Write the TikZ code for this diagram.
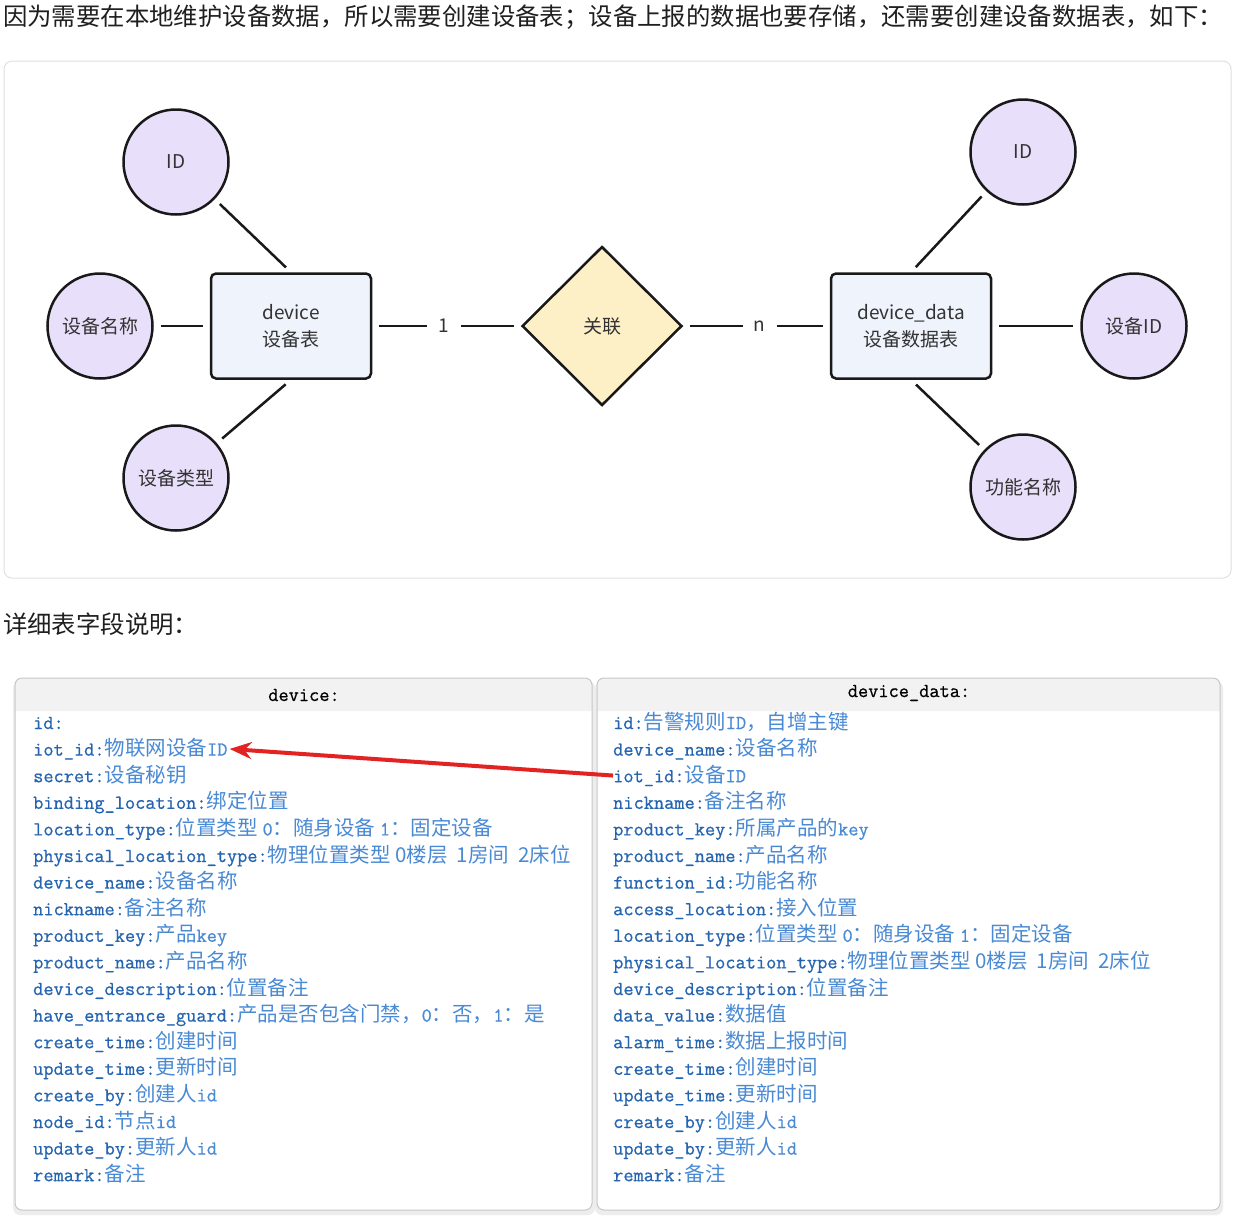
\documentclass[tikz,border=0pt]{standalone}
\usepackage{fontspec}
\newfontfamily\cjk{Noto Sans CJK SC}
\newfontfamily\fmono{Latin Modern Mono}[FakeBold=0.7]
\usetikzlibrary{shapes.geometric,arrows.meta}

\definecolor{attrfill}{HTML}{E8E0FA}
\definecolor{entfill}{HTML}{EEF3FC}
\definecolor{relfill}{HTML}{FDF0C7}
\definecolor{keyblue}{HTML}{2464B0}
\definecolor{descblue}{HTML}{4A8AD4}
\definecolor{headgray}{HTML}{F2F2F2}
\definecolor{arrowred}{HTML}{E32222}

\newcommand{\fld}[2]{{\fmono\color{keyblue}#1}{\cjk\fontsize{20.5}{22}\selectfont\color{descblue}#2}}
\newcommand{\mo}[1]{{\fmono\fontsize{19.8}{22}\selectfont #1}}

\begin{document}
\begin{tikzpicture}[x=1pt,y=-1pt]
\tikzstyle{every node}+=[inner sep=0pt]
\tikzstyle{attr}=[circle,draw=black!90,line width=2.5pt,fill=attrfill,minimum size=105pt,text=black!80,font=\cjk\fontsize{19}{23}\selectfont]
\tikzstyle{entity}=[rectangle,rounded corners=5pt,draw=black!90,line width=2.5pt,fill=entfill,minimum width=160pt,minimum height=105pt,align=center,text=black!80,font=\cjk\fontsize{19}{27}\selectfont]
\tikzstyle{rel}=[diamond,draw=black!90,line width=2.5pt,fill=relfill,minimum width=160pt,minimum height=159pt,text=black!80,font=\cjk\fontsize{19}{23}\selectfont]
\tikzstyle{link}=[line width=2.5pt,black!90,shorten <=7pt,shorten >=7pt]
\tikzstyle{card}=[fill=white,minimum width=34pt,minimum height=22pt,text=black!80,font=\cjk\fontsize{19}{23}\selectfont]
\tikzstyle{field}=[anchor=base west,font=\fontsize{19.8}{22}\selectfont]
\tikzstyle{tabhead}=[font=\fmono\fontsize{19.8}{22}\selectfont,text=black]
\tikzstyle{panelbox}=[draw=black!22,line width=1pt,rounded corners=7pt]
\useasboundingbox (0,0) rectangle (1247,1227);
\fill[white] (0,0) rectangle (1247,1227);
\node[anchor=west,font=\cjk\fontsize{24.4}{28}\selectfont,text=black!88] (intro) at (3,17) {因为需要在本地维护设备数据，所以需要创建设备表；设备上报的数据也要存储，还需要创建设备数据表，如下：};
\draw[draw=black!12,line width=1pt,rounded corners=8pt] (4,61) rectangle (1231,578);
\node[entity] (dev) at (291,326) {device\\设备表};
\node[attr] (devid) at (176,162) {ID};
\node[attr] (devname) at (100,326) {设备名称};
\node[attr] (devtype) at (176,478) {设备类型};
\node[rel] (assoc) at (602,326) {关联};
\node[entity] (data) at (911,326) {device\_data\\设备数据表};
\node[attr] (dataid) at (1023,152) {ID};
\node[attr] (datadev) at (1134,326) {设备ID};
\node[attr] (datafunc) at (1023,487) {功能名称};
\draw[link] (dev.north) -- (devid);
\draw[link] (dev.west) -- (devname);
\draw[link] (dev.south) -- (devtype);
\draw[link] (dev.east) -- node[card,xshift=-3pt] {1} (assoc.west);
\draw[link] (assoc.east) -- node[card,xshift=3pt] {n} (data.west);
\draw[link] (data.north) -- (dataid);
\draw[link] (data.east) -- (datadev);
\draw[link] (data.south) -- (datafunc);
\node[anchor=west,font=\cjk\fontsize{24.4}{28}\selectfont,text=black!88] (detail) at (3,624) {详细表字段说明：};
\fill[black!7,rounded corners=7pt] (13,681) rectangle (595,1215);
\fill[black!7,rounded corners=7pt] (595,681) rectangle (1223,1215);
\fill[white,rounded corners=7pt] (15,678) rectangle (592,1210);
\fill[white,rounded corners=7pt] (597,678) rectangle (1220,1210);
\fill[headgray] (15,711) [rounded corners=7pt] -- (15,678) -- (592,678) [sharp corners] -- (592,711) -- cycle;
\fill[headgray] (597,711) [rounded corners=7pt] -- (597,678) -- (1220,678) [sharp corners] -- (1220,711) -- cycle;
\draw[panelbox] (15,678) rectangle (592,1210);
\draw[panelbox] (597,678) rectangle (1220,1210);
\node[tabhead] (devhead) at (304,695) {device:};
\node[tabhead] (datahead) at (909,693) {device\_data:};
\foreach \k/\d [count=\i] in {
  id:/{},
  iot\_id:/物联网设备\mo{ID},
  secret:/设备秘钥,
  binding\_location:/绑定位置,
  location\_type:/位置类型 \mo{0}：随身设备 \mo{1}：固定设备,
  physical\_location\_type:/物理位置类型 0楼层 \ 1房间 \ 2床位,
  device\_name:/设备名称,
  nickname:/备注名称,
  product\_key:/产品\mo{key},
  product\_name:/产品名称,
  device\_description:/位置备注,
  have\_entrance\_guard:/产品是否包含门禁，\mo{0}：否，\mo{1}：是,
  create\_time:/创建时间,
  update\_time:/更新时间,
  create\_by:/创建人\mo{id},
  node\_id:/节点\mo{id},
  update\_by:/更新人\mo{id},
  remark:/备注}
  \node[field] (L\i) at (33,{702.4+26.6*\i}) {\fld{\k}{\d}};
\foreach \k/\d [count=\i] in {
  id:/告警规则\mo{ID}，自增主键,
  device\_name:/设备名称,
  iot\_id:/设备\mo{ID},
  nickname:/备注名称,
  product\_key:/所属产品的\mo{key},
  product\_name:/产品名称,
  function\_id:/功能名称,
  access\_location:/接入位置,
  location\_type:/位置类型 \mo{0}：随身设备 \mo{1}：固定设备,
  physical\_location\_type:/物理位置类型 0楼层 \ 1房间 \ 2床位,
  device\_description:/位置备注,
  data\_value:/数据值,
  alarm\_time:/数据上报时间,
  create\_time:/创建时间,
  update\_time:/更新时间,
  create\_by:/创建人\mo{id},
  update\_by:/更新人\mo{id},
  remark:/备注}
  \node[field] (R\i) at (613,{702.4+26.6*\i}) {\fld{\k}{\d}};
\draw[arrowred,line width=4pt,-{Stealth[length=22pt,width=17pt]}] (R3.west) -- ([xshift=2pt]L2.east);
\end{tikzpicture}
\end{document}
